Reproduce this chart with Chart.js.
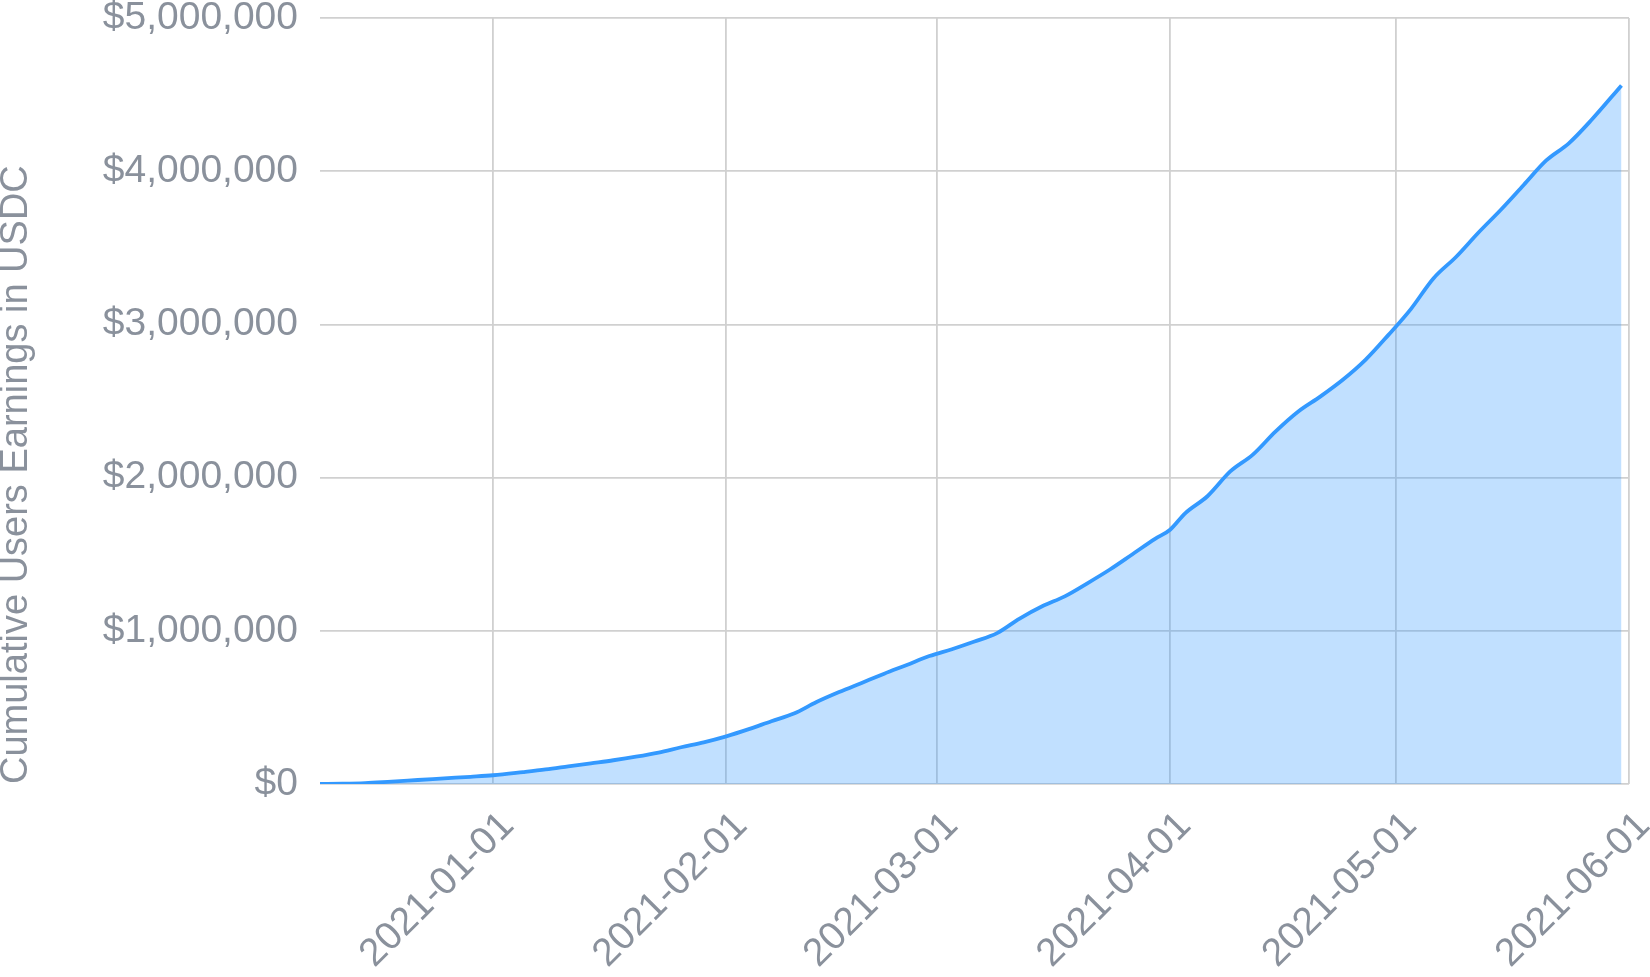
<!DOCTYPE html>
<html>
<head>
<meta charset="utf-8">
<script src="https://cdn.jsdelivr.net/npm/chart.js@4.4.1/dist/chart.umd.min.js"></script>
<style>
  html, body { margin: 0; padding: 0; background: #ffffff; }
  canvas { display: block; }
</style>
</head>
<body>
<canvas id="myChart" width="1650" height="977"></canvas>
<script>
// values
const dates = [
  '2020-12-09', '2020-12-12', '2020-12-15', '2020-12-18', '2020-12-22', '2020-12-26', '2020-12-29',
  '2021-01-01', '2021-01-05', '2021-01-08', '2021-01-11', '2021-01-14', '2021-01-17', '2021-01-20',
  '2021-01-23', '2021-01-26', '2021-01-29', '2021-02-01', '2021-02-04', '2021-02-07', '2021-02-10',
  '2021-02-13', '2021-02-16', '2021-02-19', '2021-02-22', '2021-02-25', '2021-02-28', '2021-03-03',
  '2021-03-06', '2021-03-09', '2021-03-12', '2021-03-15', '2021-03-18', '2021-03-21', '2021-03-24',
  '2021-03-27', '2021-03-30', '2021-04-01', '2021-04-03', '2021-04-06', '2021-04-09', '2021-04-12',
  '2021-04-15', '2021-04-18', '2021-04-21', '2021-04-24', '2021-04-27', '2021-04-30', '2021-05-03',
  '2021-05-06', '2021-05-09', '2021-05-12', '2021-05-15', '2021-05-18', '2021-05-21', '2021-05-24',
  '2021-05-27', '2021-05-31',
]
const earnings = [
  0, 2000, 6000, 14000, 26000, 38000, 47000,
  57000, 78000, 95000, 115000, 135000, 155000, 178000,
  205000, 240000, 272000, 311000, 358000, 410000, 460000,
  535000, 600000, 660000, 720000, 777000, 835000, 880000,
  930000, 985000, 1080000, 1160000, 1225000, 1310000, 1400000,
  1500000, 1600000, 1660000, 1767000, 1880000, 2040000, 2150000,
  2300000, 2430000, 2530000, 2640000, 2770000, 2930000, 3100000,
  3300000, 3440000, 3600000, 3750000, 3910000, 4070000, 4182000,
  4334000, 4560000,
]
const xTickLabels = ['2021-01-01', '2021-02-01', '2021-03-01', '2021-04-01', '2021-05-01', '2021-06-01']
const yTicks = [0, 1000000, 2000000, 3000000, 4000000, 5000000]
const xStart = '2020-12-09'
const xEnd = '2021-06-01'

const DAY = 86400000
const toDay = s => Date.parse(s + 'T00:00:00Z') / DAY
const dayToLabel = d => new Date(d * DAY).toISOString().slice(0, 10)

const textColor = '#8a919c'
const gridColor = '#d0d0d0'

const data = {
  datasets: [
    {
      label: 'Cumulative Users Earnings in USDC',
      data: dates.map((d, i) => ({ x: toDay(d), y: earnings[i] })),
      borderColor: '#3399ff',
      backgroundColor: 'rgba(51, 153, 255, 0.3)',
      borderWidth: 3.8,
      pointRadius: 0,
      fill: 'origin',
      cubicInterpolationMode: 'monotone',
    },
  ],
}

const options = {
  animation: false,
  responsive: false,
  layout: { padding: 0 },
  plugins: {
    legend: { display: false },
    tooltip: { enabled: false },
  },
  scales: {
    x: {
      type: 'linear',
      min: toDay(xStart),
      max: toDay(xEnd),
      afterBuildTicks: axis => {
        axis.ticks = xTickLabels.map(s => ({ value: toDay(s) }))
      },
      afterFit: axis => {
        axis.height = 193
        axis.paddingLeft = 0
        axis.paddingRight = 21
      },
      grid: { color: gridColor, lineWidth: 1.8, drawTicks: false },
      border: { display: false },
      ticks: {
        color: textColor,
        font: { family: 'Liberation Sans', size: 39 },
        minRotation: 45,
        maxRotation: 45,
        padding: 19,
        labelOffset: 15,
        autoSkip: false,
        callback: value => dayToLabel(value),
      },
    },
    y: {
      min: 0,
      max: 5000000,
      afterBuildTicks: axis => {
        axis.ticks = yTicks.map(v => ({ value: v }))
      },
      afterFit: axis => {
        axis.width = 320
        axis.paddingTop = 18
        axis.paddingBottom = 0
      },
      grid: { color: gridColor, lineWidth: 1.8, drawTicks: false },
      border: { display: false },
      title: {
        display: true,
        text: 'Cumulative Users Earnings in USDC',
        color: textColor,
        align: 'start',
        font: { family: 'Liberation Sans', size: 38, lineHeight: 0.8 },
        padding: { top: 1, bottom: 68 },
      },
      ticks: {
        color: textColor,
        font: { family: 'Liberation Sans', size: 39 },
        padding: 22,
        callback: value => '$' + value.toLocaleString('en-US'),
      },
    },
  },
}

const ctx = document.getElementById('myChart')
new Chart(ctx, { type: 'line', data, options })
</script>
</body>
</html>
